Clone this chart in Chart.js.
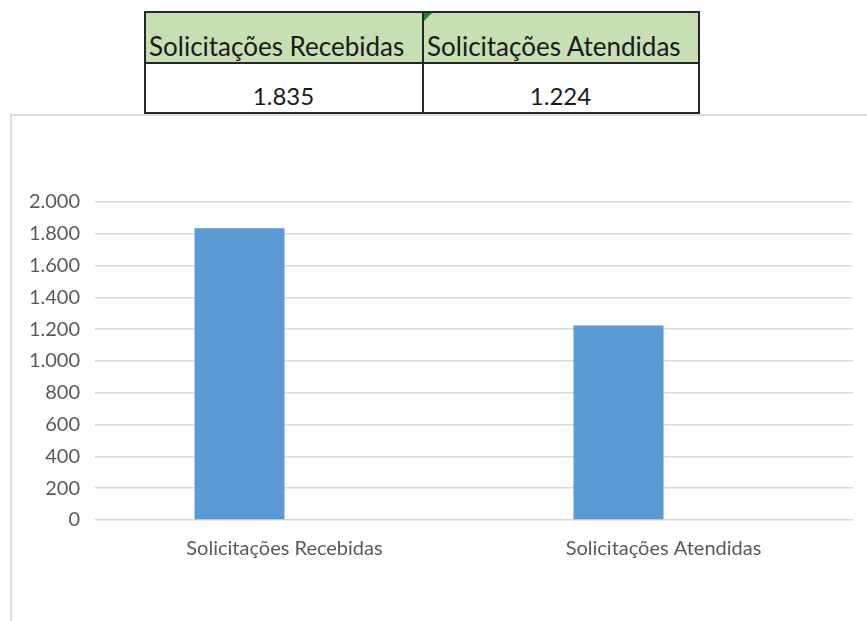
<!DOCTYPE html>
<html lang="pt-BR">
<head>
  <meta charset="UTF-8">
  <title>Solicitações</title>
  <script src="https://cdn.jsdelivr.net/npm/chart.js"></script>
  <style>
    body {
      margin: 0;
      background: #fff;
      width: 867px;
      height: 621px;
      overflow: hidden;
      position: relative;
      font-family: Lato, "Open Sans", sans-serif;
    }
    #moldura {
      position: absolute;
      left: 10px;
      top: 114px;
      width: 857px;
      height: 507px;
      border-left: 2px solid #dcdcdc;
      border-top: 2px solid #dcdcdc;
      box-sizing: border-box;
    }
    #grafico {
      position: absolute;
      left: 0;
      top: 0;
    }
    #tabela {
      position: absolute;
      left: 144px;
      top: 11px;
      border-collapse: collapse;
      color: #1a1a1a;
    }
    #tabela td {
      border: 2px solid #262626;
      padding: 0 4px 3px 3px;
      vertical-align: bottom;
      font-size: 26px;
      line-height: 26px;
    }
    #tabela tr.cab td {
      background: #c6e0b4;
      height: 46px;
      text-align: left;
    }
    #tabela tr.val td {
      height: 45px;
      text-align: center;
      font-size: 24px;
    }
    .com-marca { position: relative; }
    .marca {
      position: absolute;
      left: 0;
      top: 0;
      width: 0;
      height: 0;
      border-top: 8px solid #1f8a1f;
      border-right: 8px solid transparent;
    }
  </style>
</head>
<body>

  <div id="moldura"></div>

  <table id="tabela">
    <tr class="cab"><td id="cab0" style="width:269px"></td><td id="cab1" class="com-marca" style="width:267px"><span class="marca"></span></td></tr>
    <tr class="val"><td id="val0"></td><td id="val1"></td></tr>
  </table>

  <canvas id="grafico" width="867" height="621"></canvas>

  <script>
    const categorias = ['Solicitações Recebidas', 'Solicitações Atendidas'];
    const valores = [1835, 1224];
    // segunda série vazia no gráfico original (por isso as barras ficam à esquerda)
    const serieVazia = [null, null];
    const escalaMax = 2000;
    const escalaPasso = 200;

    function milhar(v) {
      return String(v).replace(/\B(?=(\d{3})+(?!\d))/g, '.');
    }

    // tabela de resumo
    categorias.forEach((c, i) => {
      document.getElementById('cab' + i).insertAdjacentText('beforeend', c);
      document.getElementById('val' + i).textContent = milhar(valores[i]);
    });

    const ctx = document.getElementById('grafico').getContext('2d');
    new Chart(ctx, {
      type: 'bar',
      data: {
        labels: categorias,
        datasets: [
          {
            label: 'Solicitações',
            data: valores,
            backgroundColor: '#5b9bd5',
            borderWidth: 0,
            categoryPercentage: 0.475,
            barPercentage: 1
          },
          {
            label: '',
            data: serieVazia,
            backgroundColor: '#ed7d31',
            categoryPercentage: 0.475,
            barPercentage: 1
          }
        ]
      },
      options: {
        responsive: false,
        animation: false,
        layout: { padding: { top: 202, right: 14, left: 0, bottom: 0 } },
        plugins: {
          legend: { display: false },
          tooltip: { enabled: false }
        },
        scales: {
          x: {
            grid: { display: false },
            border: { display: false },
            ticks: {
              color: '#595959',
              font: { family: 'Lato', size: 20 },
              padding: 9,
              maxRotation: 0
            },
            afterFit: (s) => { s.height = 101; }
          },
          y: {
            min: 0,
            max: escalaMax,
            border: { display: false },
            grid: { color: '#d9d9d9', lineWidth: 1.5, drawTicks: false },
            ticks: {
              stepSize: escalaPasso,
              color: '#595959',
              font: { family: 'Lato', size: 20 },
              padding: 15,
              callback: (v) => milhar(v)
            },
            afterFit: (s) => { s.width = 95; }
          }
        }
      }
    });
  </script>
</body>
</html>
